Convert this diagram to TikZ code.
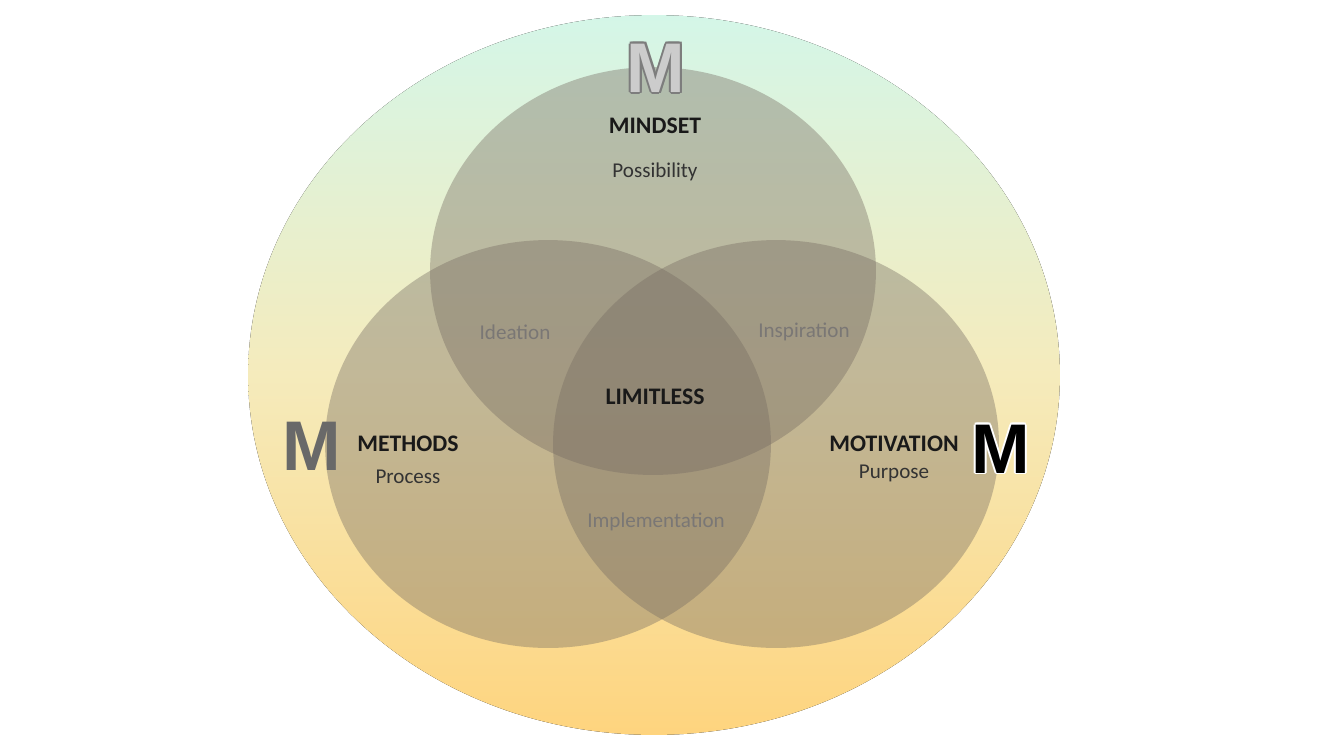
\documentclass[tikz,border=0pt]{standalone}
\usepackage{fontspec}
\setmainfont{Carlito}
\newfontfamily\mfont{Liberation Sans}
\usetikzlibrary{positioning,calc}

\definecolor{mint}{RGB}{212,246,232}
\definecolor{cream}{RGB}{245,235,188}
\definecolor{sand}{RGB}{254,212,126}
\definecolor{lenscol}{RGB}{118,108,98}
\definecolor{mtopfill}{RGB}{204,204,204}
\definecolor{mtopline}{RGB}{125,125,125}
\definecolor{mleft}{RGB}{105,105,105}
\definecolor{pairtext}{RGB}{122,119,117}

\begin{document}
\begin{tikzpicture}[
    x=0.02cm, y=-0.02cm,
    ring/.style={top color=mint, bottom color=sand, middle color=cream, draw=none},
    lens/.style={fill=lenscol, fill opacity=0.4, draw=none},
    title/.style={font=\fontsize{13.5}{16}\selectfont\bfseries, text=black!90, inner sep=1pt},
    sub/.style={font=\fontsize{12}{14}\selectfont, text=black!80, inner sep=1pt},
    pair/.style={font=\fontsize{12}{14}\selectfont, text=pairtext, inner sep=1pt},
    bigm/.style={font=\mfont\fontsize{40}{44}\selectfont\bfseries, inner sep=0pt}
]

% Frame
\fill[white] (0,0) rectangle (1332,748);
\useasboundingbox (0,0) rectangle (1332,748);

% Outer ring
\fill[ring] (654,375) ellipse [x radius=8.12cm, y radius=7.2cm];

% Three circles
\fill[lens] (653,271) ellipse [x radius=4.46cm, y radius=4.08cm];
\fill[lens] (548,444) ellipse [x radius=4.46cm, y radius=4.08cm];
\fill[lens] (776,444) ellipse [x radius=4.46cm, y radius=4.08cm];

% Big letters
\foreach \a in {0,45,...,315}
    \node[bigm, text=mtopline] (mtop\a) at ($(656,68)+(\a:1.1pt)$) {M};
\node[bigm, text=mtopfill] (mtop) at (656,68) {M};
\node[bigm, text=mleft] (mleft) at (312,446) {M};
\foreach \a in {0,45,...,315}
    \node[bigm, text=white] (mright\a) at ($(1001,449)+(\a:1pt)$) {M};
\node[bigm, text=black] (mright) at (1001,449) {M};

% Labels
\node[title] (mindset) at (655,126) {MINDSET};
\node[sub] (possib) at (655,172) {Possibility};
\node[title] (methods) at (408,444) {METHODS};
\node[sub, below=8pt of methods] (process) {Process};
\node[title] (motiv) at (894,444) {MOTIVATION};
\node[sub, below=5pt of motiv] (purpose) {Purpose};
\node[title] (limitless) at (655,397) {LIMITLESS};

% Overlaps
\node[pair] (ideation) at (515,332) {Ideation};
\node[pair] (inspire) at (804,332) {Inspiration};
\node[pair] (implement) at (656,522) {Implementation};

\end{tikzpicture}
\end{document}
